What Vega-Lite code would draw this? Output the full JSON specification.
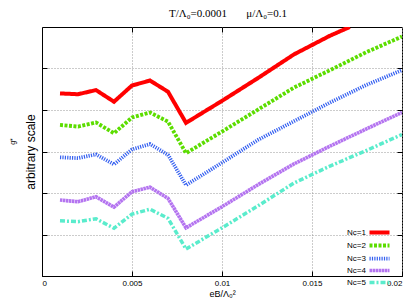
{
  "$schema": "https://vega.github.io/schema/vega-lite/v6.json",
  "width": 360,
  "height": 249,
  "autosize": {"type": "none"},
  "padding": {"left": 42, "top": 27, "right": 7, "bottom": 27},
  "background": "white",
  "title": {"text": "T/Λ₀=0.0001\u00a0\u00a0\u00a0\u00a0\u00a0\u00a0\u00a0μ/Λ₀=0.1", "font": "Liberation Serif", "fontSize": 11, "fontWeight": "normal", "color": "black", "anchor": "middle", "dx": 6, "offset": 8},
  "config": {
    "view": {"stroke": "black", "strokeWidth": 1},
    "axis": {"domainColor": "black", "tickColor": "black", "tickSize": -5, "labelFont": "Liberation Sans", "labelFontSize": 8, "labelColor": "black", "titleFont": "Liberation Sans", "titleFontWeight": "normal", "titleColor": "black", "gridColor": "#999999", "gridDash": [1, 2], "gridWidth": 1},
    "legend": {"labelFont": "Liberation Sans", "labelFontSize": 8, "labelColor": "black", "symbolStrokeWidth": 3, "padding": 0}
  },
  "data": {"values": [
    {"x": 0.001, "y": 4.40, "s": "Nc=1"}, {"x": 0.002, "y": 4.38, "s": "Nc=1"}, {"x": 0.003, "y": 4.48, "s": "Nc=1"}, {"x": 0.004, "y": 4.20, "s": "Nc=1"}, {"x": 0.005, "y": 4.59, "s": "Nc=1"}, {"x": 0.006, "y": 4.71, "s": "Nc=1"}, {"x": 0.007, "y": 4.44, "s": "Nc=1"}, {"x": 0.008, "y": 3.69, "s": "Nc=1"}, {"x": 0.010, "y": 4.22, "s": "Nc=1"}, {"x": 0.012, "y": 4.77, "s": "Nc=1"}, {"x": 0.014, "y": 5.34, "s": "Nc=1"}, {"x": 0.016, "y": 5.79, "s": "Nc=1"}, {"x": 0.0171, "y": 6.0, "s": "Nc=1"},
    {"x": 0.001, "y": 3.64, "s": "Nc=2"}, {"x": 0.002, "y": 3.60, "s": "Nc=2"}, {"x": 0.003, "y": 3.70, "s": "Nc=2"}, {"x": 0.004, "y": 3.44, "s": "Nc=2"}, {"x": 0.005, "y": 3.82, "s": "Nc=2"}, {"x": 0.006, "y": 3.94, "s": "Nc=2"}, {"x": 0.007, "y": 3.72, "s": "Nc=2"}, {"x": 0.008, "y": 2.96, "s": "Nc=2"}, {"x": 0.010, "y": 3.48, "s": "Nc=2"}, {"x": 0.012, "y": 4.01, "s": "Nc=2"}, {"x": 0.014, "y": 4.54, "s": "Nc=2"}, {"x": 0.016, "y": 4.96, "s": "Nc=2"}, {"x": 0.018, "y": 5.39, "s": "Nc=2"}, {"x": 0.020, "y": 5.77, "s": "Nc=2"},
    {"x": 0.001, "y": 2.86, "s": "Nc=3"}, {"x": 0.002, "y": 2.84, "s": "Nc=3"}, {"x": 0.003, "y": 2.93, "s": "Nc=3"}, {"x": 0.004, "y": 2.69, "s": "Nc=3"}, {"x": 0.005, "y": 3.05, "s": "Nc=3"}, {"x": 0.006, "y": 3.18, "s": "Nc=3"}, {"x": 0.007, "y": 2.92, "s": "Nc=3"}, {"x": 0.008, "y": 2.19, "s": "Nc=3"}, {"x": 0.010, "y": 2.73, "s": "Nc=3"}, {"x": 0.012, "y": 3.28, "s": "Nc=3"}, {"x": 0.014, "y": 3.73, "s": "Nc=3"}, {"x": 0.016, "y": 4.18, "s": "Nc=3"}, {"x": 0.018, "y": 4.60, "s": "Nc=3"}, {"x": 0.020, "y": 4.96, "s": "Nc=3"},
    {"x": 0.001, "y": 1.83, "s": "Nc=4"}, {"x": 0.002, "y": 1.79, "s": "Nc=4"}, {"x": 0.003, "y": 1.91, "s": "Nc=4"}, {"x": 0.004, "y": 1.66, "s": "Nc=4"}, {"x": 0.005, "y": 2.03, "s": "Nc=4"}, {"x": 0.006, "y": 2.14, "s": "Nc=4"}, {"x": 0.007, "y": 1.87, "s": "Nc=4"}, {"x": 0.008, "y": 1.16, "s": "Nc=4"}, {"x": 0.010, "y": 1.67, "s": "Nc=4"}, {"x": 0.012, "y": 2.20, "s": "Nc=4"}, {"x": 0.014, "y": 2.70, "s": "Nc=4"}, {"x": 0.016, "y": 3.13, "s": "Nc=4"}, {"x": 0.018, "y": 3.54, "s": "Nc=4"}, {"x": 0.020, "y": 3.94, "s": "Nc=4"},
    {"x": 0.001, "y": 1.33, "s": "Nc=5"}, {"x": 0.002, "y": 1.31, "s": "Nc=5"}, {"x": 0.003, "y": 1.38, "s": "Nc=5"}, {"x": 0.004, "y": 1.15, "s": "Nc=5"}, {"x": 0.005, "y": 1.49, "s": "Nc=5"}, {"x": 0.006, "y": 1.61, "s": "Nc=5"}, {"x": 0.007, "y": 1.39, "s": "Nc=5"}, {"x": 0.008, "y": 0.65, "s": "Nc=5"}, {"x": 0.010, "y": 1.16, "s": "Nc=5"}, {"x": 0.012, "y": 1.69, "s": "Nc=5"}, {"x": 0.014, "y": 2.24, "s": "Nc=5"}, {"x": 0.016, "y": 2.65, "s": "Nc=5"}, {"x": 0.018, "y": 3.02, "s": "Nc=5"}, {"x": 0.020, "y": 3.41, "s": "Nc=5"}
  ]},
  "layer": [
    {
      "mark": {"type": "line", "clip": true},
      "encoding": {
        "x": {"field": "x", "type": "quantitative", "scale": {"domain": [0, 0.02], "nice": false, "zero": false},
              "axis": {"values": [0, 0.005, 0.01, 0.015, 0.02], "labelExpr": "'' + datum.value", "grid": true, "labelPadding": 8, "title": "eB/Λ₀²", "titleFontSize": 9, "titlePadding": 2}},
        "y": {"field": "y", "type": "quantitative", "scale": {"domain": [0, 6], "nice": false},
              "axis": {"values": [1, 2, 3, 4, 5], "labels": false, "grid": true, "title": "arbitrary scale", "titleFontSize": 12, "titleX": -12, "titleY": 124.5, "titleBaseline": "middle", "titleAngle": 270, "titleAlign": "center"}},
        "color": {"field": "s", "type": "nominal", "scale": {"domain": ["Nc=1", "Nc=2", "Nc=3", "Nc=4", "Nc=5"], "range": ["#ff0000", "#5cdd00", "#3560f0", "#b474f0", "#5aeccc"]},
                  "legend": {"orient": "none", "legendX": 333, "legendY": 201, "title": null, "symbolType": "M-4,0H4", "symbolSize": 25, "labelAlign": "right", "labelOffset": -18, "rowPadding": -7.6}},
        "strokeDash": {"field": "s", "type": "nominal", "scale": {"domain": ["Nc=1", "Nc=2", "Nc=3", "Nc=4", "Nc=5"], "range": [[1, 0], [3, 1.5], [1.2, 1.2], [2.5, 0.5], [5, 2, 2, 2]]}, "legend": null},
        "strokeWidth": {"field": "s", "type": "nominal", "scale": {"domain": ["Nc=1", "Nc=2", "Nc=3", "Nc=4", "Nc=5"], "range": [4, 3.5, 3, 3, 3.5]}, "legend": null}
      }
    },
    {
      "mark": {"type": "line", "opacity": 0},
      "encoding": {
        "x": {"field": "x", "type": "quantitative", "scale": {"domain": [0, 0.02], "nice": false, "zero": false},
              "axis": {"orient": "top", "values": [0.005, 0.01, 0.015], "labels": false, "domain": false, "grid": false, "title": "g*", "titleFontSize": 7, "titleX": -30, "titleY": 114, "titleAngle": 270, "titleBaseline": "middle", "titleAlign": "center"}},
        "y": {"field": "y", "type": "quantitative", "scale": {"domain": [0, 6], "nice": false},
              "axis": {"orient": "right", "values": [1, 2, 3, 4, 5], "labels": false, "domain": false, "grid": false, "title": null}},
        "detail": {"field": "s", "type": "nominal"}
      }
    }
  ],
  "resolve": {"scale": {"x": "independent", "y": "independent"}, "axis": {"x": "independent", "y": "independent"}}
}
